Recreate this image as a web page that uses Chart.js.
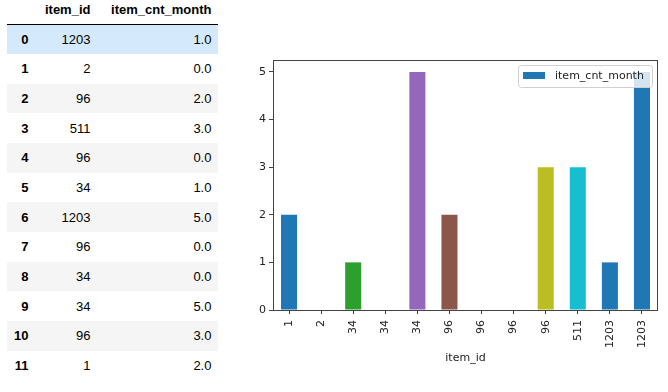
<!DOCTYPE html>
<html>
<head>
<meta charset="utf-8">
<script src="https://cdn.jsdelivr.net/npm/chart.js@4.4.1/dist/chart.umd.min.js"></script>
<style>
  html, body { margin: 0; padding: 0; background: #fff; }
  body { width: 668px; height: 392px; position: relative; overflow: hidden; }
  #df {
    position: absolute; left: 7px; top: 0;
    border-collapse: collapse; table-layout: fixed;
    font-family: "Liberation Sans", Arial, sans-serif; font-size: 13px; color: #000;
  }
  #df th, #df td { padding: 0 7px; text-align: right; white-space: nowrap; }
  #df thead th { height: 24px; line-height: 20px; vertical-align: top; border-bottom: 1px solid #000; font-weight: bold; }
  #df tbody tr { height: 29.67px; }
  #df tbody th { font-weight: bold; }
  #df tbody tr:nth-child(odd) { background: #f5f5f5; }
  #df tbody tr.hl { background: #d4e9fb; }
  #wrap { position: absolute; left: 240px; top: 0; width: 428px; height: 392px; }
</style>
</head>
<body>
<table id="df">
  <colgroup><col style="width:28px"><col style="width:62px"><col style="width:121px"></colgroup>
  <thead><tr><th></th><th>item_id</th><th>item_cnt_month</th></tr></thead>
  <tbody id="rows"></tbody>
</table>
<div id="wrap"><canvas id="barChart"></canvas></div>
<script>
// dataframe as shown
const rowIndex = [0, 1, 2, 3, 4, 5, 6, 7, 8, 9, 10, 11];
const itemIds = [1203, 2, 96, 511, 96, 34, 1203, 96, 34, 34, 96, 1];
const itemCnt = [1, 0, 2, 3, 0, 1, 5, 0, 0, 5, 3, 2];

// bar plot (sorted by item_id)
const barLabels = ['1', '2', '34', '34', '34', '96', '96', '96', '96', '511', '1203', '1203'];
const barValues = [2, 0, 1, 0, 5, 2, 0, 0, 3, 3, 1, 5];
const barColors = ['#1f77b4', '#ff7f0e', '#2ca02c', '#d62728', '#9467bd', '#8c564b',
                   '#e377c2', '#7f7f7f', '#bcbd22', '#17becf', '#1f77b4', '#1f77b4'];
const yTicks = [0, 1, 2, 3, 4, 5];

const tbody = document.getElementById('rows');
rowIndex.forEach(function (idx, i) {
  const tr = document.createElement('tr');
  if (i === 0) tr.className = 'hl';
  tr.innerHTML = '<th>' + idx + '</th><td>' + itemIds[i] + '</td><td>' + itemCnt[i].toFixed(1) + '</td>';
  tbody.appendChild(tr);
});

Chart.defaults.font.family = '"DejaVu Sans", sans-serif';
Chart.defaults.font.size = 11;
Chart.defaults.color = '#222';

// box around the plot + matplotlib style legend
const framePlugin = {
  id: 'frame',
  afterDatasetsDraw(chart) {
    const a = chart.chartArea;
    const ctx = chart.ctx;
    ctx.save();
    ctx.strokeStyle = '#444';
    ctx.lineWidth = 1;
    ctx.strokeRect(Math.round(a.left) + 0.5, Math.round(a.top) + 0.5,
                   Math.round(a.right - a.left) - 1, Math.round(a.bottom - a.top));

    const label = chart.data.datasets[0].label;
    const w = 134, h = 22;
    const x = a.right - 6 - w, y = a.top + 5;
    ctx.beginPath();
    ctx.roundRect(x + 0.5, y + 0.5, w, h, 3);
    ctx.fillStyle = 'rgba(255,255,255,0.8)';
    ctx.fill();
    ctx.strokeStyle = '#d0d0d0';
    ctx.stroke();
    ctx.fillStyle = barColors[0];
    ctx.fillRect(x + 5, y + 7, 22, 7);
    ctx.fillStyle = '#222';
    ctx.font = '11px "DejaVu Sans", sans-serif';
    ctx.textBaseline = 'middle';
    ctx.fillText(label, x + 37, y + 11.5);
    ctx.restore();
  }
};

new Chart(document.getElementById('barChart').getContext('2d'), {
  type: 'bar',
  data: {
    labels: barLabels,
    datasets: [{
      label: 'item_cnt_month',
      data: barValues,
      backgroundColor: barColors,
      borderWidth: 0,
      categoryPercentage: 1.0,
      barPercentage: 0.5
    }]
  },
  options: {
    responsive: true,
    maintainAspectRatio: false,
    animation: false,
    layout: { padding: { top: 60, right: 10, bottom: 23, left: 0 } },
    plugins: { legend: { display: false }, tooltip: { enabled: false } },
    scales: {
      x: {
        grid: { offset: false, drawOnChartArea: false, color: '#444', tickLength: 4 },
        border: { display: false },
        ticks: { minRotation: 90, maxRotation: 90, padding: 6, autoSkip: false },
        title: { display: true, text: 'item_id', color: '#222', font: { size: 11 } },
        afterFit(scale) { scale.height = 59; }
      },
      y: {
        min: 0,
        max: 5.25,
        grid: { drawOnChartArea: false, color: '#444', tickLength: 4 },
        border: { display: false },
        ticks: { stepSize: 1, padding: 3 },
        afterBuildTicks(scale) { scale.ticks = yTicks.map(v => ({ value: v })); },
        afterFit(scale) { scale.width = 33; }
      }
    }
  },
  plugins: [framePlugin]
});
</script>
</body>
</html>
